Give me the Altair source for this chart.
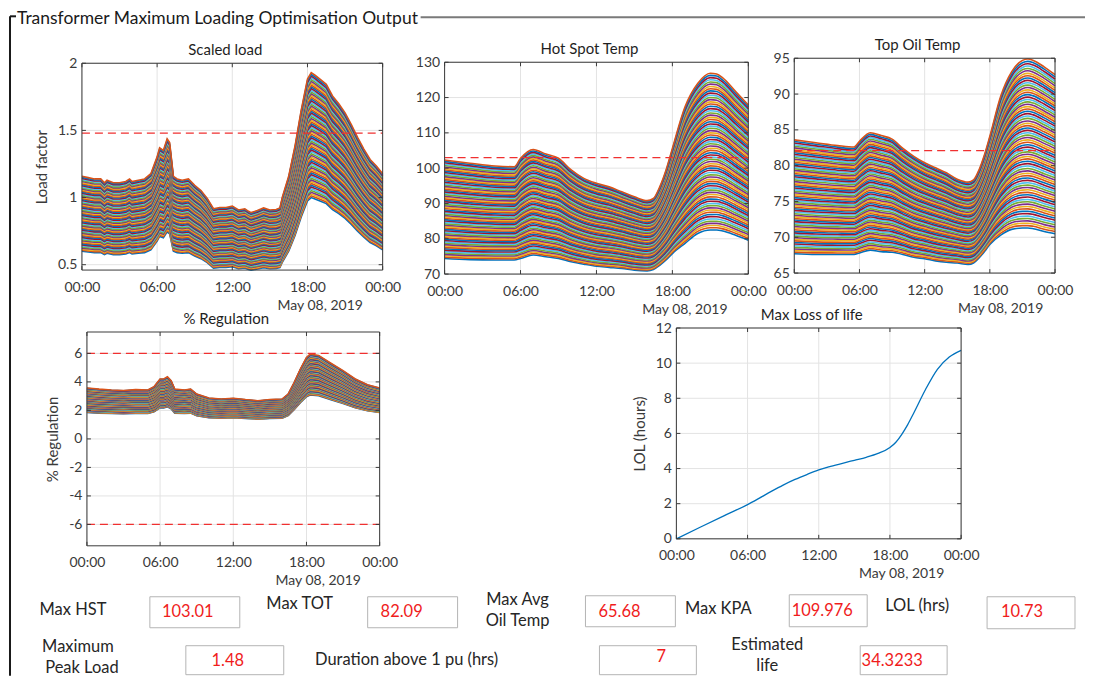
import json
import altair as alt
import pandas as pd

FONT = "Lato"
MATLAB_COLORS = ["#0072BD", "#D95319", "#EDB120", "#7E2F8E", "#77AC30", "#4DBEEE", "#A2142F"]
RED = "#f03030"
TEXT = "#3a3a3a"
AXIS_COLOR = "#3a3a3a"

# ---------------- data ----------------
tick_hours = [0, 6, 12, 18, 24]
tick_labels = ["00:00", "06:00", "12:00", "18:00", "00:00"]
date_label = "May 08, 2019"

# scaling factors of the family of curves (bottom curve = 1.0, top = 1.93)
line_scale = [1.000, 1.013, 1.026, 1.039, 1.052, 1.065, 1.079, 1.092, 1.105, 1.118,
              1.131, 1.144, 1.157, 1.170, 1.183, 1.196, 1.210, 1.223, 1.236, 1.249,
              1.262, 1.275, 1.288, 1.301, 1.314, 1.327, 1.341, 1.354, 1.367, 1.380,
              1.393, 1.406, 1.419, 1.432, 1.445, 1.458, 1.472, 1.485, 1.498, 1.511,
              1.524, 1.537, 1.550, 1.563, 1.576, 1.589, 1.603, 1.616, 1.629, 1.642,
              1.655, 1.668, 1.681, 1.694, 1.707, 1.720, 1.734, 1.747, 1.760, 1.773,
              1.786, 1.799, 1.812, 1.825, 1.838, 1.851, 1.865, 1.878, 1.891, 1.904,
              1.917, 1.930]

load_hours = [0, 0.5, 1, 1.5, 1.8, 2, 2.5, 3, 3.5, 3.8, 4, 4.5, 5, 5.5, 6, 6.2, 6.5, 6.8, 7,
              7.3, 7.6, 8, 8.5, 9, 9.5, 10, 10.5, 11, 11.5, 12, 12.5, 13, 13.3, 13.5, 14, 14.5,
              15, 15.5, 15.8, 16, 16.5, 17, 17.5, 18, 18.3, 18.6, 19, 19.5, 20, 20.5, 21, 21.5,
              22, 22.5, 23, 23.5, 24]
load_base = [0.600, 0.595, 0.590, 0.590, 0.575, 0.585, 0.575, 0.575, 0.580, 0.590, 0.580, 0.585,
             0.590, 0.610, 0.675, 0.710, 0.700, 0.745, 0.730, 0.600, 0.590, 0.585, 0.590, 0.565,
             0.545, 0.515, 0.475, 0.480, 0.480, 0.485, 0.470, 0.475, 0.465, 0.460, 0.468, 0.478,
             0.470, 0.472, 0.478, 0.520, 0.600, 0.715, 0.855, 0.975, 1.000, 0.990, 0.975, 0.955,
             0.910, 0.880, 0.845, 0.800, 0.750, 0.705, 0.665, 0.640, 0.610]
load_limit = [1.48]

temp_hours = [0, 2, 4, 5.5, 6, 7, 8, 9, 10, 11, 12, 13, 14, 15, 16, 16.5, 17, 17.5, 18,
              19, 20, 21, 21.5, 22, 23, 24]
hst_low = [74.4, 74.1, 74.0, 74.0, 74.4, 75.4, 74.9, 74.4, 73.5, 72.8, 72.2, 71.9, 71.6,
           71.1, 70.9, 71.3, 72.5, 74.0, 75.8, 78.7, 81.5, 82.5, 82.5, 82.2, 81.0, 79.6]
hst_high = [102.3, 101.4, 100.6, 100.4, 102.8, 105.3, 104.0, 102.8, 99.5, 97.1, 95.7, 94.7,
            93.3, 91.9, 90.8, 91.4, 94.7, 99.5, 105.6, 117.4, 124.0, 126.9, 126.7, 125.5,
            121.7, 117.9]
hst_limit = [103.01]

tot_low = [67.7, 67.6, 67.6, 67.6, 67.8, 68.2, 68.0, 67.9, 67.6, 67.2, 67.0, 66.7, 66.5,
           66.4, 66.2, 66.4, 67.1, 68.0, 69.0, 70.3, 71.1, 71.3, 71.3, 71.2, 70.8, 70.5]
tot_high = [83.6, 83.2, 82.8, 82.6, 83.4, 84.6, 84.2, 83.7, 82.4, 81.3, 80.4, 79.7, 79.0,
            78.1, 77.7, 78.0, 79.4, 81.5, 84.1, 89.7, 93.1, 94.7, 94.9, 94.7, 93.8, 92.7]
tot_limit = [82.09]

reg_hours = [0, 1, 2, 3, 4, 5, 5.5, 6, 6.3, 6.6, 6.9, 7.2, 8, 8.5, 9, 10, 11, 12, 13, 14,
             15, 16, 16.5, 17, 17.5, 18, 18.3, 19, 20, 21, 22, 23, 24]
reg_base = [1.85, 1.81, 1.78, 1.76, 1.79, 1.78, 1.90, 2.18, 2.18, 2.26, 2.12, 1.81, 1.78,
            1.81, 1.63, 1.49, 1.45, 1.48, 1.43, 1.39, 1.43, 1.45, 1.63, 2.06, 2.54, 2.96,
            3.08, 3.03, 2.75, 2.48, 2.18, 1.97, 1.85]
reg_limits = [6, -6]

lol_hours = [0, 2, 4, 6, 7, 8, 9, 10, 11, 12, 13, 14, 15, 16, 17, 18, 18.5, 19, 19.5, 20,
             21, 22, 23, 24]
lol_values = [0, 0.66, 1.31, 1.95, 2.32, 2.70, 3.06, 3.38, 3.66, 3.92, 4.12, 4.30, 4.47,
              4.64, 4.86, 5.20, 5.50, 5.95, 6.50, 7.15, 8.50, 9.65, 10.35, 10.73]

# result widgets
field_values = ["103.01", "82.09", "65.68", "109.976", "10.73", "1.48", "7", "34.3233"]
label_texts = ["Max HST", "Max TOT", "Max Avg", "Oil Temp", "Max KPA", "LOL (hrs)",
               "Maximum", "Peak Load", "Duration above 1 pu (hrs)", "Estimated", "life"]
frame_title = "Transformer Maximum Loading Optimisation Output"

# ---------------- layout (page pixels) ----------------
PAGE_X0, PAGE_Y0 = 8, 8          # page margin
CANVAS_W, CANVAS_H = 1078, 668   # drawing area (page 8..1086, 8..676)
TICK_PX = 4                      # inward tick length

# subplot rectangles: left, top, right, bottom
RECT_LOAD = (82, 63, 383, 270)
RECT_HST = (445, 62, 749, 274)
RECT_TOT = (795, 58, 1056, 273)
RECT_REG = (87, 332, 380, 546)
RECT_LOL = (677, 328, 962, 539)

box_x1 = [150, 368, 586, 790, 988, 186, 600, 861]
box_x2 = [240, 458, 676, 868, 1076, 284, 697, 948]
box_y1 = [597, 597, 596, 595, 597, 646, 646, 646]
box_y2 = [628, 628, 627, 627, 629, 675, 675, 675]
value_x = [188, 402, 620, 823, 1023, 228, 662, 893]
value_y = [612, 612, 612, 611, 612, 661, 657, 661]
label_x = [73, 300, 518, 518, 719, 918, 78, 82, 407, 768, 768]
label_y = [610, 604, 600, 621, 609, 606, 647, 668, 660, 645, 666]

# ---------------- helpers ----------------
LABEL_EXPR = "{}[indexof({}, datum.value)]".format(json.dumps(tick_labels), json.dumps(tick_hours))


def scaled_frame(hours, base):
    rows = []
    for k, s in enumerate(line_scale):
        for h, b in zip(hours, base):
            rows.append({"hour": h, "value": b * s, "line": k, "ci": k % 7})
    return pd.DataFrame(rows)


def band_frame(hours, low, high):
    f0, f1 = line_scale[0], line_scale[-1]
    rows = []
    for k, s in enumerate(line_scale):
        f = (s - f0) / (f1 - f0)
        for h, lo, hi in zip(hours, low, high):
            rows.append({"hour": h, "value": lo + f * (hi - lo), "line": k, "ci": k % 7})
    return pd.DataFrame(rows)


def subplot(df, rect, title, ydom, yticks, limits, ytitle=None, interp="linear", single=False):
    L, T, R, B = [v - (PAGE_X0 if i % 2 == 0 else PAGE_Y0) for i, v in enumerate(rect)]
    w, h = R - L, B - T
    xs = alt.Scale(domain=[0, 24], range=[L, R], nice=False, zero=False)
    ys = alt.Scale(domain=ydom, range=[B, T], nice=False, zero=False)

    x_axis = alt.Axis(orient="bottom", offset=B - CANVAS_H, values=tick_hours,
                      labelExpr=LABEL_EXPR, labelFlush=False, labelPadding=10, grid=False,
                      domain=False, ticks=False, title=date_label, titleX=round(L + 0.79 * w),
                      titleY=35, titleAlign="center", titleBaseline="middle", titleAngle=0,
                      titleFontSize=14, titleFontWeight="normal")
    y_axis = alt.Axis(orient="left", offset=-L, values=yticks, labelExpr="datum.value + ''",
                      labelPadding=5, grid=False, domain=False, ticks=False,
                      title=ytitle, titlePadding=8, titleFontSize=15)

    xgrid = alt.Chart(pd.DataFrame({"hour": tick_hours})).mark_rule(
        color="#e3e3e3", strokeWidth=1).encode(
        x=alt.X("hour:Q", scale=xs, axis=x_axis),
        y=alt.datum(ydom[0], scale=ys), y2=alt.datum(ydom[1]))
    ygrid = alt.Chart(pd.DataFrame({"value": yticks})).mark_rule(
        color="#e3e3e3", strokeWidth=1).encode(
        y=alt.Y("value:Q", scale=ys, axis=y_axis),
        x=alt.datum(0), x2=alt.datum(24))

    if single:
        lines = alt.Chart(df).mark_line(color="#0072BD", strokeWidth=1.3, interpolate=interp).encode(
            x=alt.X("hour:Q", scale=xs), y=alt.Y("value:Q", scale=ys))
    else:
        lines = alt.Chart(df).mark_line(strokeWidth=1.6, interpolate=interp).encode(
            x=alt.X("hour:Q", scale=xs), y=alt.Y("value:Q", scale=ys),
            color=alt.Color("ci:N", scale=alt.Scale(domain=list(range(7)), range=MATLAB_COLORS),
                            legend=None),
            detail="line:N")

    # inward tick marks on all four sides of the box
    ty = TICK_PX * (ydom[1] - ydom[0]) / h
    tx = TICK_PX * 24 / w
    xt_rows = []
    for hr in tick_hours:
        xt_rows.append({"hour": hr, "y1": ydom[0], "y2": ydom[0] + ty})
        xt_rows.append({"hour": hr, "y1": ydom[1] - ty, "y2": ydom[1]})
    xticks = alt.Chart(pd.DataFrame(xt_rows)).mark_rule(color=AXIS_COLOR, strokeWidth=1).encode(
        x=alt.X("hour:Q", scale=xs), y=alt.Y("y1:Q", scale=ys), y2="y2:Q")
    yt_rows = []
    for v in yticks:
        yt_rows.append({"value": v, "x1": 0, "x2": tx})
        yt_rows.append({"value": v, "x1": 24 - tx, "x2": 24})
    yticks_m = alt.Chart(pd.DataFrame(yt_rows)).mark_rule(color=AXIS_COLOR, strokeWidth=1).encode(
        y=alt.Y("value:Q", scale=ys), x=alt.X("x1:Q", scale=xs), x2="x2:Q")

    layers = [xgrid, ygrid, lines]
    if limits:
        layers.append(alt.Chart(pd.DataFrame({"value": limits})).mark_rule(
            color=RED, strokeDash=[8, 5], strokeWidth=1.3).encode(
            y=alt.Y("value:Q", scale=ys), x=alt.datum(0), x2=alt.datum(24)))
    layers += [xticks, yticks_m]
    layers.append(alt.Chart(pd.DataFrame({"v": [0]})).mark_rect(
        fill="transparent", stroke=AXIS_COLOR, strokeWidth=1).encode(
        x=alt.datum(0), x2=alt.datum(24), y=alt.datum(ydom[0]), y2=alt.datum(ydom[1])))
    layers.append(alt.Chart(pd.DataFrame({"t": [title]})).mark_text(
        baseline="alphabetic", dy=-8, dx=-7, fontSize=15, color="#1f1f1f").encode(
        x=alt.datum(12), y=alt.datum(ydom[1]), text="t:N"))
    return alt.layer(*layers)


# ---------------- panels ----------------
chart_load = subplot(scaled_frame(load_hours, load_base), RECT_LOAD, "Scaled load", [0.46, 2.0],
                     [0.5, 1, 1.5, 2], load_limit, ytitle="Load factor")
chart_hst = subplot(band_frame(temp_hours, hst_low, hst_high), RECT_HST, "Hot Spot Temp", [70, 130],
                    [70, 80, 90, 100, 110, 120, 130], hst_limit, interp="monotone")
chart_tot = subplot(band_frame(temp_hours, tot_low, tot_high), RECT_TOT, "Top Oil Temp", [65, 95],
                    [65, 70, 75, 80, 85, 90, 95], tot_limit, interp="monotone")
chart_reg = subplot(scaled_frame(reg_hours, reg_base), RECT_REG, "% Regulation", [-7.5, 7.5],
                    [-6, -4, -2, 0, 2, 4, 6], reg_limits, ytitle="% Regulation")
chart_lol = subplot(pd.DataFrame({"hour": lol_hours, "value": lol_values}), RECT_LOL,
                    "Max Loss of life", [0, 12], [0, 2, 4, 6, 8, 10, 12], None,
                    ytitle="LOL (hours)", interp="monotone", single=True)

# ---------------- widgets / frame (page-pixel scales) ----------------
px = alt.Scale(domain=[PAGE_X0, PAGE_X0 + CANVAS_W], range=[0, CANVAS_W], nice=False, zero=False)
py = alt.Scale(domain=[PAGE_Y0, PAGE_Y0 + CANVAS_H], range=[0, CANVAS_H], nice=False, zero=False)

frame_df = pd.DataFrame({"x": [10, 10, 421], "x2": [10, 16, 1086], "y": [16, 16, 17],
                         "y2": [676, 16, 17], "c": ["#1a1a1a", "#1a1a1a", "#7a7a7a"]})
frame = alt.Chart(frame_df).mark_rule(strokeWidth=2).encode(
    x=alt.X("x:Q", scale=px, axis=None), x2="x2:Q",
    y=alt.Y("y:Q", scale=py, axis=None), y2="y2:Q",
    color=alt.Color("c:N", scale=None))

frame_text = alt.Chart(pd.DataFrame({"x": [17], "y": [19], "t": [frame_title]})).mark_text(
    align="left", baseline="middle", fontSize=17.5, color="#1a1a1a").encode(
    x=alt.X("x:Q", scale=px, axis=None), y=alt.Y("y:Q", scale=py, axis=None), text="t:N")

boxes = alt.Chart(pd.DataFrame({"x": box_x1, "x2": box_x2, "y": box_y1, "y2": box_y2})).mark_rect(
    fill="white", stroke="#b4b4b4", strokeWidth=1).encode(
    x=alt.X("x:Q", scale=px, axis=None), x2="x2:Q",
    y=alt.Y("y:Q", scale=py, axis=None), y2="y2:Q")

values = alt.Chart(pd.DataFrame({"x": value_x, "y": value_y, "t": field_values})).mark_text(
    align="center", baseline="middle", fontSize=16.5, color="#f01c1c").encode(
    x=alt.X("x:Q", scale=px, axis=None), y=alt.Y("y:Q", scale=py, axis=None), text="t:N")

labels = alt.Chart(pd.DataFrame({"x": label_x, "y": label_y, "t": label_texts})).mark_text(
    align="center", baseline="middle", fontSize=16.5, color="#262626").encode(
    x=alt.X("x:Q", scale=px, axis=None), y=alt.Y("y:Q", scale=py, axis=None), text="t:N")

widgets = alt.layer(frame, frame_text, boxes, values, labels)

chart = alt.layer(
    chart_load, chart_hst, chart_tot, chart_reg, chart_lol, widgets
).resolve_scale(
    x="independent", y="independent", color="independent"
).properties(
    width=CANVAS_W, height=CANVAS_H, padding=0
).configure(font=FONT).configure_view(
    strokeWidth=0
).configure_axis(
    labelFont=FONT, labelFontSize=14, labelColor=TEXT, titleFont=FONT, titleFontSize=14,
    titleFontWeight="normal", titleColor=TEXT,
)

chart.save("out.html", embed_options={"renderer": "svg", "actions": False})
